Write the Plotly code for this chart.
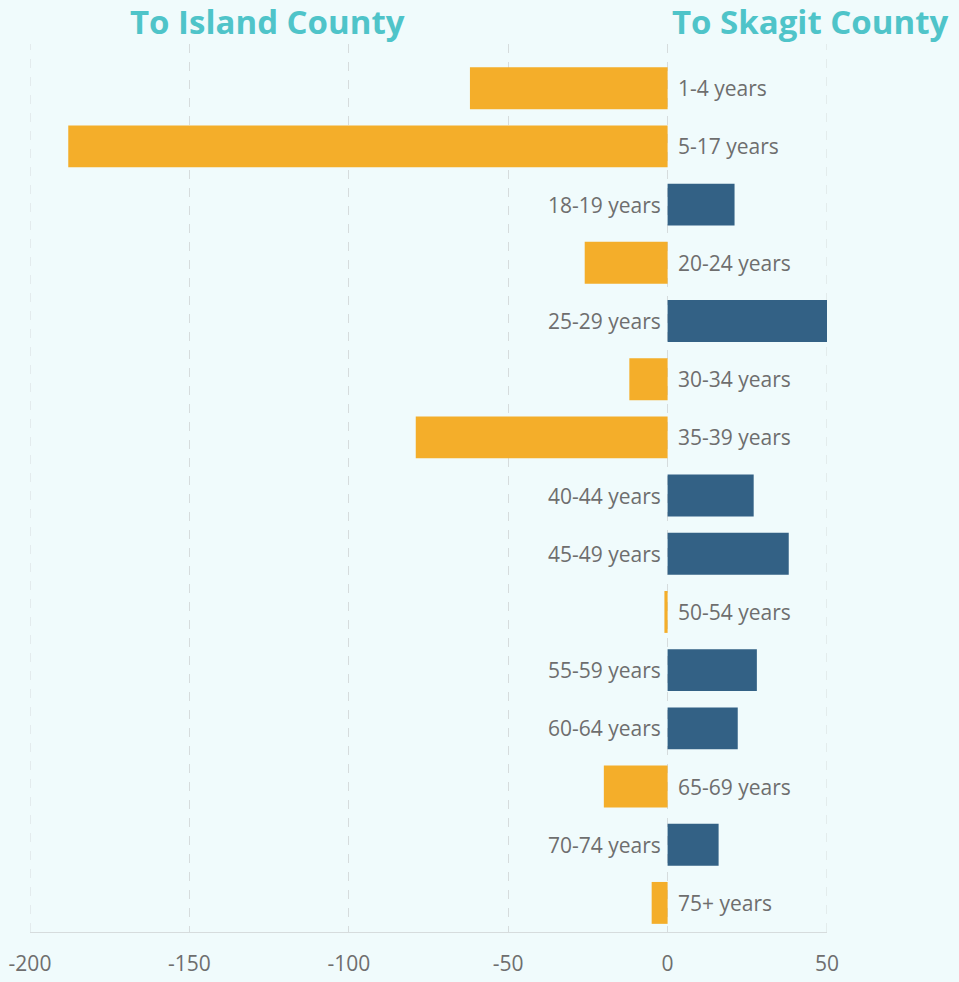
import plotly.graph_objects as go

categories = ["1-4 years", "5-17 years", "18-19 years", "20-24 years", "25-29 years",
              "30-34 years", "35-39 years", "40-44 years", "45-49 years", "50-54 years",
              "55-59 years", "60-64 years", "65-69 years", "70-74 years", "75+ years"]
values = [-62, -188, 21, -26, 50, -12, -79, 27, 38, -1, 28, 22, -20, 16, -5]
tick_vals = [-200, -150, -100, -50, 0, 50]

ORANGE = "#f4ae2a"
BLUE = "#336185"
TEAL = "#4fc4c9"
GRAY = "#6e6e6e"
BG = "#f0fbfc"
GRID = "#d6dcdd"
FONT = "Open Sans"

colors = [ORANGE if v < 0 else BLUE for v in values]

fig = go.Figure(go.Bar(
    x=values, y=categories, orientation="h",
    marker=dict(color=colors, line=dict(width=0)),
    hoverinfo="x+y",
))

annotations = []
for c, v in zip(categories, values):
    if v < 0:
        annotations.append(dict(x=0, y=c, xref="x", yref="y", text=c, showarrow=False,
                                xanchor="left", xshift=8,
                                font=dict(family=FONT, size=21, color=GRAY)))
    else:
        annotations.append(dict(x=0, y=c, xref="x", yref="y", text=c, showarrow=False,
                                xanchor="right", xshift=-5,
                                font=dict(family=FONT, size=21, color=GRAY)))

W, H = 959, 982
ML, MR, MT, MB = 30, 132, 44, 50
pw, ph = W - ML - MR, H - MT - MB

def paper(px, py):
    return (px - ML) / pw, 1 - (py - MT) / ph

for txt, px, py in [("<b>To Island County</b>", 267, 22), ("<b>To Skagit County</b>", 810, 22)]:
    x, y = paper(px, py)
    annotations.append(dict(x=x, y=y, xref="paper", yref="paper", text=txt,
                            showarrow=False, xanchor="center", yanchor="middle",
                            font=dict(family=FONT, size=33, color=TEAL)))

# edge gridlines (plotly hides gridlines at the range ends)
shapes = [dict(type="line", xref="x", yref="paper", x0=t, x1=t, y0=0, y1=1, layer="below",
               line=dict(color=GRID, width=1, dash="dash")) for t in (tick_vals[0], tick_vals[-1])]

fig.update_layout(
    width=W, height=H,
    margin=dict(l=ML, r=MR, t=MT, b=MB),
    paper_bgcolor=BG, plot_bgcolor=BG,
    bargap=0.28,
    showlegend=False,
    annotations=annotations,
    shapes=shapes,
    font=dict(family=FONT, color=GRAY),
    xaxis=dict(range=[-200, 50], tickvals=tick_vals, ticktext=[str(t) for t in tick_vals],
               showgrid=True, gridcolor=GRID, griddash="dash", gridwidth=1,
               zeroline=False, showline=True, linecolor=GRID, linewidth=1, automargin=False,
               tickfont=dict(family=FONT, size=21, color=GRAY), ticklabelstandoff=13),
    yaxis=dict(categoryorder="array", categoryarray=categories, range=[14.5, -0.76],
               showticklabels=False, showgrid=False, zeroline=False, showline=False,
               automargin=False),
)

fig.write_html("out.html", config={"displayModeBar": False},
               post_script="document.body.style.margin='0';document.body.style.background='%s';" % BG)
